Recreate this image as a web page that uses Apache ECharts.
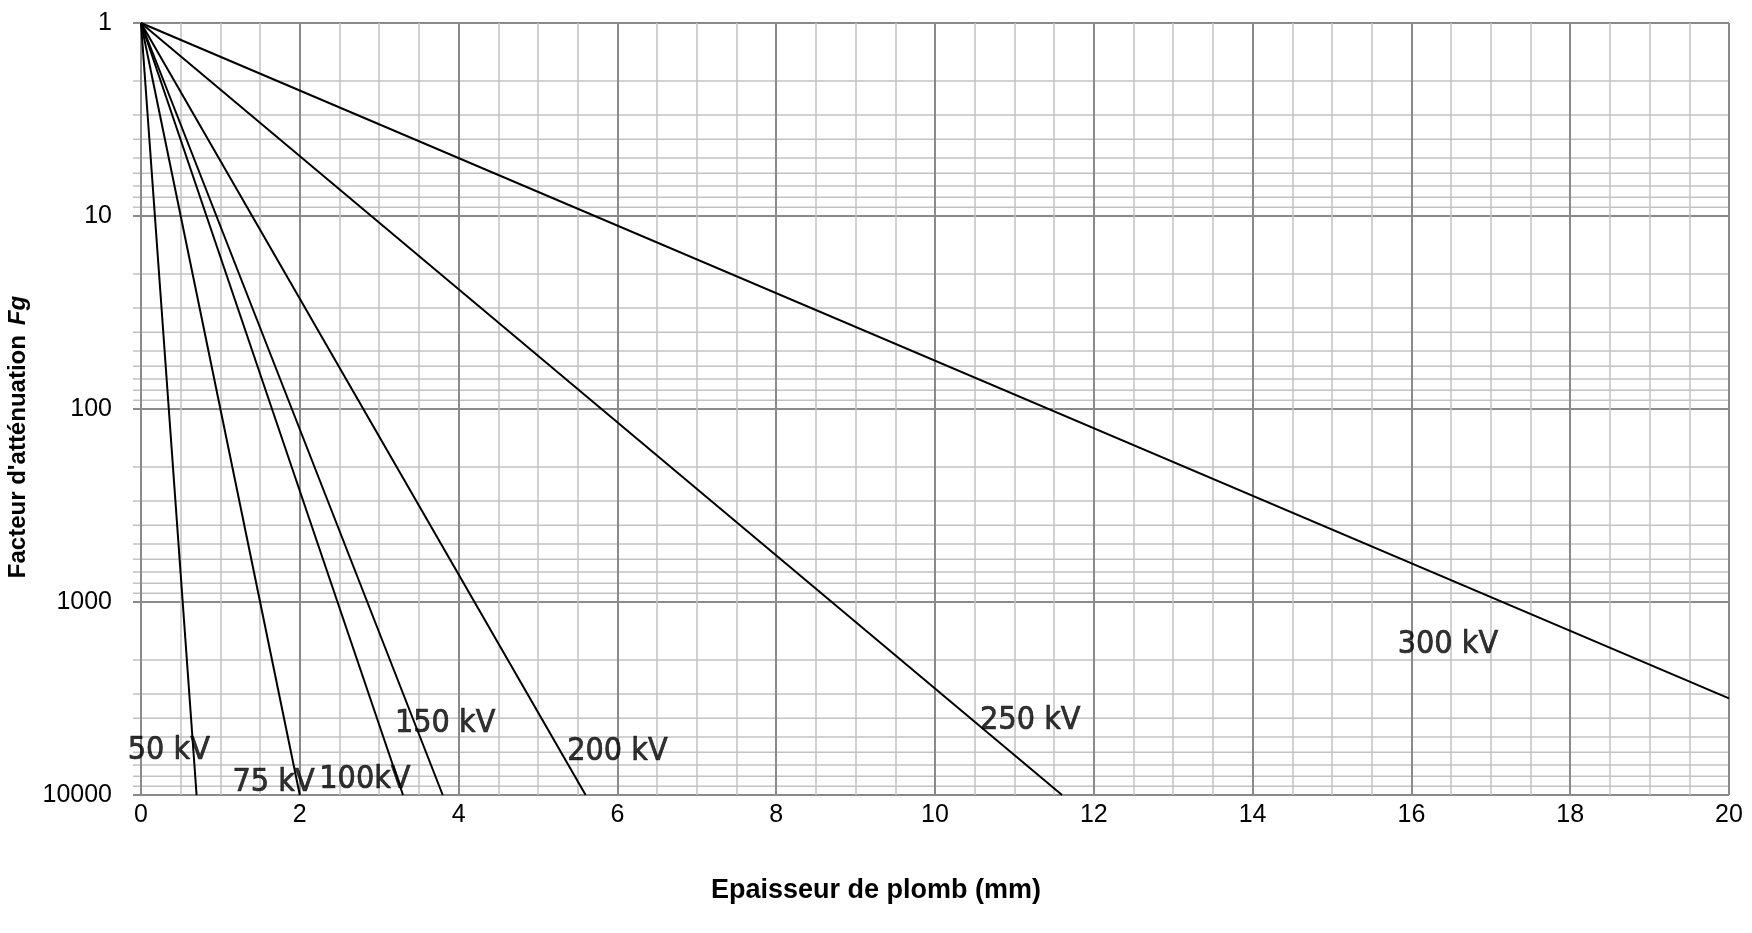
<!DOCTYPE html>
<html>
<head>
<meta charset="utf-8">
<script src="https://cdn.jsdelivr.net/npm/echarts@6/dist/echarts.min.js"></script>
<style>
  html, body { margin: 0; padding: 0; background: #ffffff; }
  #chart { width: 1752px; height: 933px; }
</style>
</head>
<body>
<div id="chart"></div>
<script>
// Attenuation of lead shielding: each voltage is a straight line on the
// log scale, from factor 1 at 0 mm to its end point.
const voltages       = ['50 kV', '75 kV', '100kV', '150 kV', '200 kV', '250 kV', '300 kV'];
const startThickness = [0, 0, 0, 0, 0, 0, 0];
const startFactor    = [1, 1, 1, 1, 1, 1, 1];
const endThickness   = [0.7, 2.0, 3.3, 3.8, 5.6, 11.6, 20];
const endFactor      = [10000, 10000, 10000, 10000, 10000, 10000, 3160];

// Axis ticks
const xTickLabels = ['0', '2', '4', '6', '8', '10', '12', '14', '16', '18', '20'];
const yTickLabels = ['1', '10', '100', '1000', '10000'];
const yDecades    = [1, 10, 100, 1000];
const minorSteps  = [2, 3, 4, 5, 6, 7, 8, 9];

// Where each voltage name sits (thickness, factor)
const labelAnchors = [
  [0.35, 5870], [1.67, 8650], [2.82, 8340], [3.83, 4260],
  [6.0, 5950], [11.2, 4130], [16.46, 1660]
];

const X_MIN = 0, X_MAX = 20, X_STEP = 2;
const Y_MIN = 1, Y_MAX = 10000;
const MAJOR = '#8a8a8a', MINOR = '#c2c2c2';
const TICK_LEN = 8;
const TICK_FONT = '"Liberation Sans", Arial, Helvetica, sans-serif';
const NARROW_FONT = '"Liberation Sans Narrow", "Arial Narrow", "DejaVu Sans Condensed", sans-serif';

const minorY = [];
yDecades.forEach(d => minorSteps.forEach(m => minorY.push([X_MIN, d * m])));

const chart = echarts.init(document.getElementById('chart'), null, { renderer: 'canvas' });

const lineSeries = voltages.map((name, i) => ({
  name: name,
  type: 'line',
  data: [[startThickness[i], startFactor[i]], [endThickness[i], endFactor[i]]],
  symbol: 'none',
  lineStyle: { color: '#000000', width: 2 },
  z: 3,
  silent: true
}));

chart.setOption({
  animation: false,
  backgroundColor: '#ffffff',
  grid: { left: 141, right: 23, top: 23, bottom: 138, containLabel: false },
  xAxis: {
    type: 'value',
    min: X_MIN, max: X_MAX, interval: X_STEP,
    axisLine: { show: false },
    axisTick: { show: false },
    axisLabel: {
      margin: 8, color: '#000', fontSize: 25, fontFamily: TICK_FONT,
      formatter: v => xTickLabels[Math.round(v / X_STEP)]
    },
    splitLine: { show: true, lineStyle: { color: MAJOR, width: 2 } },
    minorTick: { show: false, splitNumber: 4 },
    minorSplitLine: { show: true, lineStyle: { color: MINOR, width: 1.5 } }
  },
  yAxis: {
    type: 'log', logBase: 10,
    min: Y_MIN, max: Y_MAX, inverse: true,
    axisLine: { show: false },
    axisTick: { show: true, length: TICK_LEN, lineStyle: { color: MAJOR, width: 2 } },
    axisLabel: {
      margin: 29, color: '#000', fontSize: 25, fontFamily: TICK_FONT,
      formatter: v => yTickLabels[Math.round(Math.log10(v))]
    },
    splitLine: { show: true, lineStyle: { color: MAJOR, width: 2 } }
  },
  graphic: [
    {
      type: 'text', x: 876, y: 891,
      style: {
        text: 'Epaisseur de plomb (mm)',
        font: 'bold 27px ' + TICK_FONT,
        fill: '#000', align: 'center', verticalAlign: 'middle',
        textAlign: 'center', textVerticalAlign: 'middle'
      }
    },
    {
      type: 'text', x: 18, y: 437, rotation: Math.PI / 2,
      style: {
        text: "{a|Facteur d'atténuation}   {b|Fg}",
        fill: '#000', align: 'center', verticalAlign: 'middle',
        textAlign: 'center', textVerticalAlign: 'middle',
        rich: {
          a: { fontSize: 24, fontWeight: 'bold', fontFamily: TICK_FONT, fill: '#000', color: '#000' },
          b: { fontSize: 24, fontWeight: 'bold', fontStyle: 'italic', fontFamily: TICK_FONT, fill: '#000', color: '#000' }
        }
      }
    }
  ],
  series: [
    {
      // minor horizontal grid lines with their outside ticks
      name: 'minor-grid',
      type: 'custom',
      z: -1,
      silent: true,
      clip: false,
      data: minorY,
      renderItem: (params, api) => {
        const v = api.value(1);
        const p0 = api.coord([X_MIN, v]);
        const p1 = api.coord([X_MAX, v]);
        return {
          type: 'line',
          shape: { x1: p0[0] - TICK_LEN, y1: p0[1], x2: p1[0], y2: p1[1] },
          style: { stroke: MINOR, lineWidth: 1.5 }
        };
      }
    },
    ...lineSeries,
    {
      name: 'voltage-labels',
      type: 'scatter',
      symbolSize: 0,
      z: 4,
      silent: true,
      data: labelAnchors.map((p, i) => ({ value: p, name: voltages[i] })),
      label: {
        show: true, position: 'inside',
        formatter: p => p.name,
        color: '#000000', fontSize: 32, fontFamily: NARROW_FONT,
        textBorderColor: '#000000', textBorderWidth: 0.7
      }
    }
  ]
});
</script>
</body>
</html>
